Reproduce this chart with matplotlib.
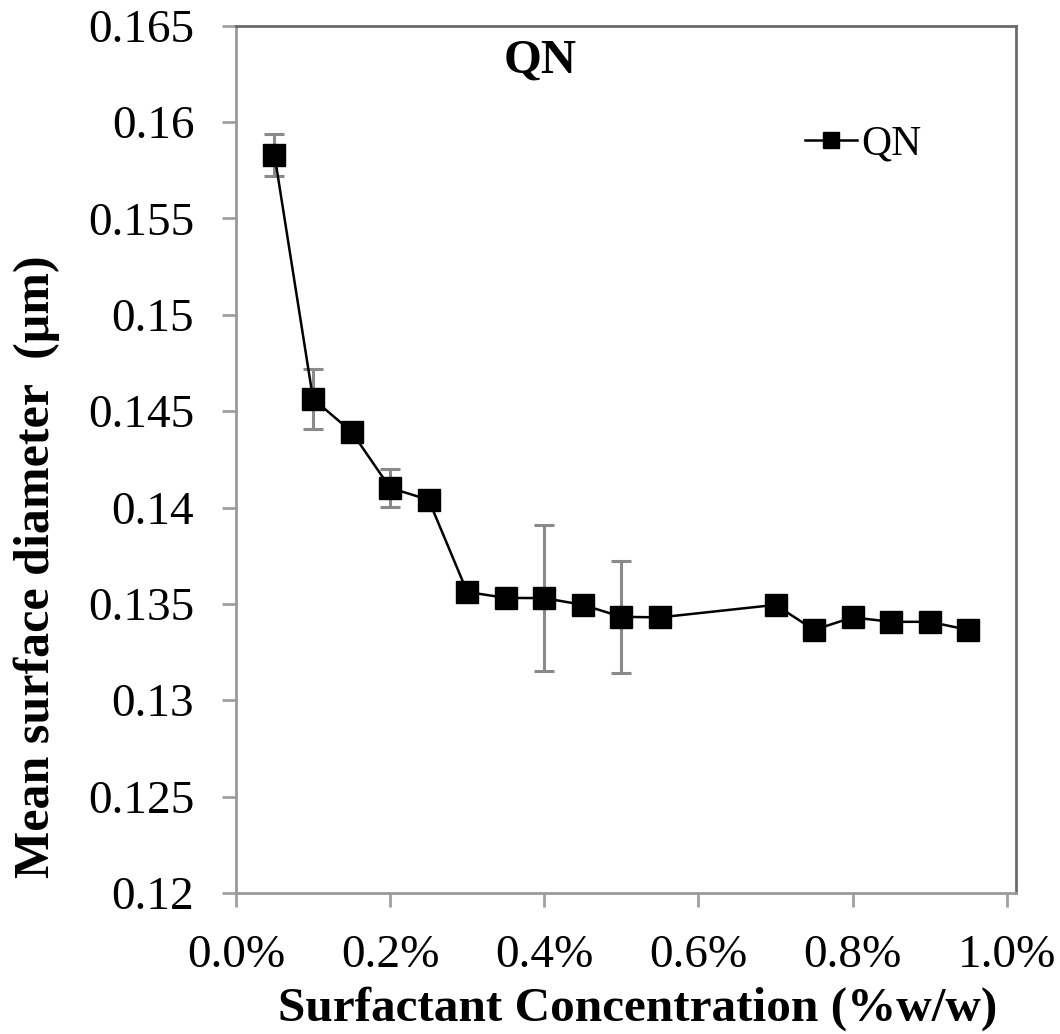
import numpy as np
import matplotlib
matplotlib.use("Agg")
from matplotlib import pyplot as plt
from matplotlib.ticker import FuncFormatter, MultipleLocator

# surfactant concentration (fraction w/w) and mean surface diameter (um)
conc = [0.0005, 0.0010, 0.0015, 0.0020, 0.0025, 0.0030, 0.0035, 0.0040, 0.0045,
        0.0050, 0.0055, 0.0070, 0.0075, 0.0080, 0.0085, 0.0090, 0.0095]
diam = [0.1583, 0.14564, 0.14393, 0.14102, 0.1404, 0.13562, 0.13531, 0.1353, 0.13495,
        0.13433, 0.1343, 0.13495, 0.13365, 0.1343, 0.13407, 0.13407, 0.13365]
err = [0.0011, 0.00155, 0.0, 0.001, 0.0, 0.0003, 0.0003, 0.0038, 0.0,
       0.0029, 0.0, 0.0, 0.0, 0.0, 0.0, 0.0, 0.0]

plt.rcParams['font.family'] = ['Liberation Serif', 'DejaVu Serif']

fig = plt.figure(figsize=(10.6, 10.34), dpi=100)
ax = fig.add_axes([0.2226, 0.1364, 0.7359, 0.8387])

ax.errorbar(conc, diam, yerr=err, fmt='none', ecolor='#8a8a8a', elinewidth=2.2,
            capsize=7, capthick=2.2, zorder=2)
ax.plot(conc, diam, color='black', lw=1.8, marker='s', ms=16, mfc='black',
        mec='black', label='QN', zorder=3)

ax.set_xlim(0, 0.01012)
ax.set_ylim(0.12, 0.165)
ax.xaxis.set_major_locator(MultipleLocator(0.002))
ax.yaxis.set_major_locator(MultipleLocator(0.005))
ax.xaxis.set_major_formatter(FuncFormatter(lambda v, p: '%.1f%%' % (v * 100)))
ax.yaxis.set_major_formatter(FuncFormatter(lambda v, p: ('%.3f' % v).rstrip('0')))

ax.tick_params(axis='both', direction='out', length=10, width=2, color='#a0a0a0',
               labelsize=34)
ax.tick_params(axis='y', pad=20)
ax.tick_params(axis='x', pad=20)
for side in ['left', 'bottom']:
    ax.spines[side].set_color('#999999')
    ax.spines[side].set_linewidth(2)
for side in ['top', 'right']:
    ax.spines[side].set_color('#6a6a6a')
    ax.spines[side].set_linewidth(2)

ax.set_xlabel('Surfactant Concentration (%w/w)', fontsize=35.5, fontweight='bold')
ax.xaxis.set_label_coords(0.515, -0.108)
ax.set_ylabel('Mean surface diameter  (\u03bcm)', fontsize=36, fontweight='bold')
ax.yaxis.set_label_coords(-0.225, 0.376)
ax.text(0.39, 0.985, 'QN', transform=ax.transAxes, ha='center', va='top',
        fontsize=35, fontweight='bold')

leg = ax.legend(loc='upper right', bbox_to_anchor=(0.9, 0.905), frameon=False,
                fontsize=30, handlelength=1.25, handletextpad=0.1, markerscale=0.75,
                borderaxespad=0)

fig.savefig('out.png', dpi=100)
